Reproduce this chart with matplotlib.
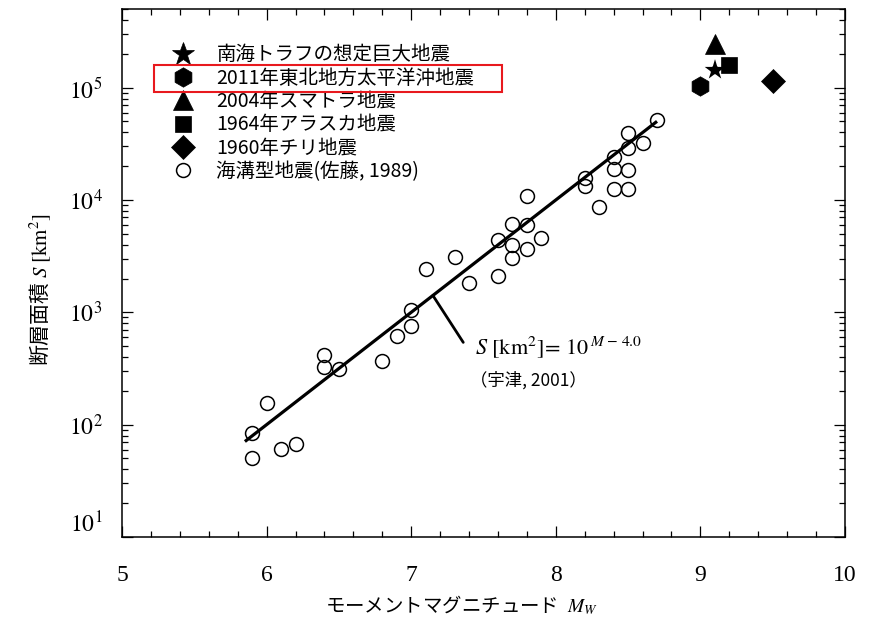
import matplotlib
matplotlib.use('Agg')
import matplotlib.pyplot as plt
from matplotlib.patches import Rectangle
from matplotlib.font_manager import FontProperties
import numpy as np

plt.rcParams['font.family'] = ['Noto Sans CJK JP', 'DejaVu Sans']
plt.rcParams['mathtext.fontset'] = 'stix'

# 海溝型地震 (佐藤, 1989)
trench_mw = [5.9, 5.9, 6.0, 6.1, 6.2, 6.4, 6.4, 6.5, 6.8, 6.9, 7.0, 7.0,
             7.1, 7.3, 7.4, 7.6, 7.6, 7.7, 7.7, 7.7, 7.8, 7.8, 7.8, 7.9,
             8.2, 8.2, 8.3, 8.4, 8.4, 8.4, 8.5, 8.5, 8.5, 8.5, 8.6, 8.7]
trench_s = [50, 84, 155, 61, 67, 418, 329, 312, 370, 616, 1050, 758,
            2430, 3080, 1840, 2110, 4430, 3990, 3040, 6140, 3660, 6030, 10800, 4580,
            15700, 13200, 8650, 24200, 19000, 12500, 39500, 29000, 18300, 12500, 32100, 51900]

# 巨大地震
big_names = ['南海トラフの想定巨大地震', '2011年東北地方太平洋沖地震', '2004年スマトラ地震',
             '1964年アラスカ地震', '1960年チリ地震']
big_mw = [9.1, 9.0, 9.1, 9.2, 9.5]
big_s = [1.44e5, 1.04e5, 2.47e5, 1.6e5, 1.15e5]
big_markers = ['*', 'h', '^', 's', 'D']
big_sizes = [17, 14, 14, 12, 12]

trench_name = '海溝型地震(佐藤, 1989)'

# 宇津 (2001): S = 10^(M-4.0)
line_mw = np.array([5.85, 8.7])
line_s = 10 ** (line_mw - 4.0)

fig = plt.figure(figsize=(8.69, 6.27), dpi=100)
ax = fig.add_axes([122 / 869, 1 - 537 / 627, 723 / 869, 528 / 627])

ax.plot(line_mw, line_s, color='black', lw=2.3, solid_capstyle='butt', zorder=2)
h_trench, = ax.plot(trench_mw, trench_s, 'o', ms=10, mfc='none', mec='black', mew=1.1,
                    ls='none', zorder=3)

# 星印は白縁付きで他の記号の上に重ねる
draw_order = [1, 3, 0, 2, 4]
for i in draw_order:
    if big_markers[i] == '*':
        ax.plot(big_mw[i], big_s[i], '*', ms=20, color='black', mec='white', mew=1.3,
                ls='none', zorder=4 + i)
    else:
        ax.plot(big_mw[i], big_s[i], big_markers[i], ms=big_sizes[i], color='black',
                mec='black', mew=0.5, ls='none', zorder=4 + i)

leg_handles = []
for i in range(len(big_names)):
    hh, = ax.plot([], [], big_markers[i], ms=big_sizes[i], color='black', mec='black',
                  mew=0.5, ls='none')
    leg_handles.append(hh)
leg_handles.append(h_trench)
ax.legend(leg_handles, big_names + [trench_name], loc='upper left',
          bbox_to_anchor=(0.058, 0.933), frameon=False, borderpad=0, borderaxespad=0,
          prop=FontProperties(family=['Noto Sans CJK JP', 'DejaVu Sans'], size=14),
          handlelength=2.0, handletextpad=0.7, labelspacing=0.12, numpoints=1)

# 宇津 (2001) の式への引き出し線
ax.annotate('', xy=(7.15, 10 ** (7.15 - 4.0)), xytext=(7.36, 540),
            arrowprops=dict(arrowstyle='-', lw=2.0, color='black', shrinkA=0, shrinkB=0))
ax.text(7.44, 480, r'$S\ [\mathrm{km}^2]\!=\,10^{\,M\ \mathrm{-}\ 4.0}$', fontsize=16,
        ha='left', va='center')
ax.text(7.41, 250, '（宇津, 2001）', fontsize=12.5, ha='left', va='center')

ax.set_yscale('log')
ax.set_xlim(5, 10)
ax.set_ylim(10, 10 ** 5.7)

ax.set_xticks([5, 6, 7, 8, 9, 10])
ax.set_xticklabels(['5', '6', '7', '8', '9', '10'], fontfamily='Liberation Serif', fontsize=17)
ax.set_xticks(np.arange(5, 10.01, 0.2), minor=True)
ax.set_yticks([10, 1e2, 1e3, 1e4, 1e5])
ax.set_yticklabels([r'$10^{1}$', r'$10^{2}$', r'$10^{3}$', r'$10^{4}$', r'$10^{5}$'],
                   fontsize=17)
ax.get_yticklabels()[0].set_va('bottom')
ax.tick_params(which='both', direction='in', top=True, right=True, width=0.9)
ax.tick_params(which='major', length=8)
ax.tick_params(which='minor', length=4)
ax.tick_params(axis='x', which='major', pad=20)
ax.tick_params(axis='y', which='major', pad=14)
for s in ax.spines.values():
    s.set_linewidth(1.1)

ax.set_xlabel('モーメントマグニチュード  $M_W$', fontsize=14)
ax.xaxis.set_label_coords(0.47, -0.108)
ax.set_ylabel('断層面積 $S\\ [\\mathrm{km}^2]$', fontsize=15)
ax.yaxis.set_label_coords(-0.095, 0.468)

# 東北地方太平洋沖地震の凡例を囲む枠
fig.patches.append(Rectangle((154 / 869, 1 - 92 / 627), 348 / 869, 27 / 627,
                             transform=fig.transFigure, fill=False,
                             edgecolor='#e8191e', lw=1.5, zorder=10))

fig.savefig('out.png', dpi=100, facecolor='white')
